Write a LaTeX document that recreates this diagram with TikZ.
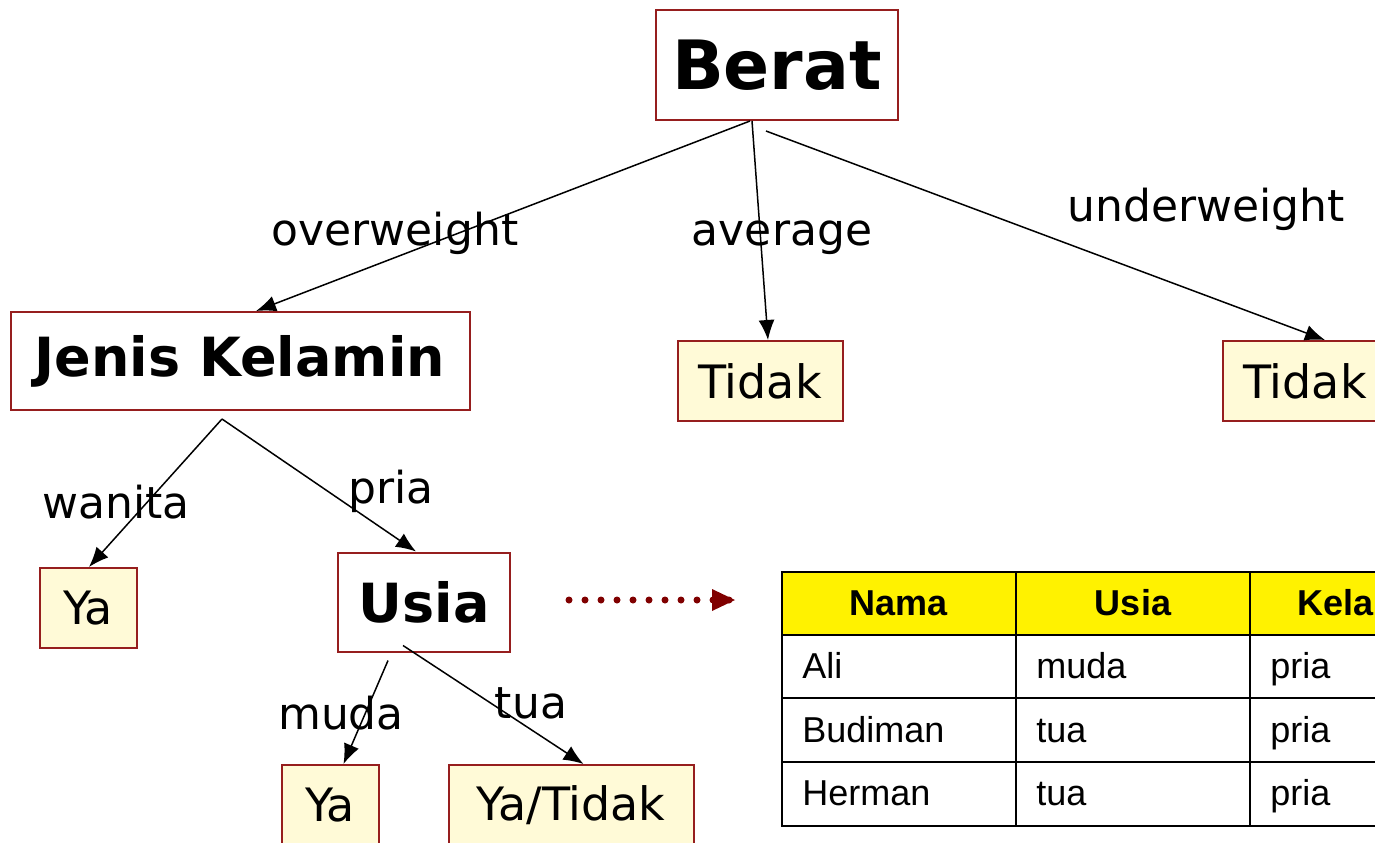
\documentclass[tikz,border=0pt]{standalone}
\usepackage{fontspec}
\setmainfont{DejaVu Sans}
\newfontfamily\tblfont{Liberation Sans}
\usetikzlibrary{arrows.meta}

\definecolor{boxred}{RGB}{150,30,30}
\definecolor{leafyellow}{RGB}{255,250,215}
\definecolor{dotred}{RGB}{128,0,0}

\begin{document}
\begin{tikzpicture}[x=0.5pt,y=-0.5pt]
\tikzstyle{every node}+=[inner sep=0pt]
\tikzstyle{attr}=[draw=boxred, line width=1pt, fill=white, font=\bfseries\fontsize{27}{30}\selectfont]
\tikzstyle{leaf}=[draw=boxred, line width=1pt, fill=leafyellow, minimum height=40pt, font=\fontsize{23}{26}\selectfont]
\tikzstyle{lbl}=[anchor=base, font=\fontsize{22}{26}\selectfont]
\tikzstyle{branch}=[line width=0.75pt, -{Latex[length=10pt,width=8pt]}]
\tikzstyle{tblline}=[line width=1pt]
\tikzstyle{cell}=[anchor=base west, font=\tblfont\fontsize{18}{21}\selectfont]
\tikzstyle{hcell}=[anchor=base, font=\tblfont\bfseries\fontsize{18}{21}\selectfont]
\useasboundingbox (0,0) rectangle (1375,842);
\clip (0,0) rectangle (1375,842);

% tree
\node[attr, minimum width=121pt, minimum height=55pt, font=\bfseries\fontsize{34}{38}\selectfont] (Berat) at (777,65) {Berat};
\node[attr, minimum width=229.5pt, minimum height=49pt] (JK) at (240,361) {Jenis Kelamin};
\node[leaf, minimum width=82.5pt] (TidakA) at (760,381) {Tidak};
\node[leaf, minimum width=82.5pt] (TidakU) at (1305,381) {Tidak};
\node[leaf, minimum width=48.5pt] (YaW) at (88,608) {Ya};
\node[attr, minimum width=86pt, minimum height=49.5pt] (Usia) at (424,602) {Usia};
\node[leaf, minimum width=48.5pt] (YaM) at (330,805) {Ya};
\node[leaf, minimum width=122.5pt] (YaT) at (571,805) {Ya/Tidak};

\draw[branch] ([xshift=-13.5pt]Berat.south) -- ([xshift=8pt]JK.north);
\draw[branch] ([xshift=-12.5pt]Berat.south) -- ([xshift=4pt]TidakA.north);
\draw[branch] ([xshift=-5.5pt,yshift=-5pt]Berat.south) -- ([xshift=10pt]TidakU.north);
\draw[branch] ([xshift=-9pt,yshift=-4pt]JK.south) -- ([xshift=0.5pt]YaW.north);
\draw[branch] ([xshift=-9pt,yshift=-4pt]JK.south) -- ([xshift=-4pt]Usia.north);
\draw[branch] ([xshift=-18pt,yshift=-4pt]Usia.south) -- ([xshift=6.75pt]YaM.north);
\draw[branch] ([xshift=-10.5pt,yshift=3.5pt]Usia.south) -- ([xshift=6.25pt]YaT.north);

\node[lbl] (lOver) at (395,245) {overweight};
\node[lbl] (lAvg) at (782,245) {average};
\node[lbl] (lUnder) at (1206,221) {underweight};
\node[lbl] (lWanita) at (116,518) {wanita};
\node[lbl] (lPria) at (391,503) {pria};
\node[lbl] (lMuda) at (341,729) {muda};
\node[lbl] (lTua) at (531,718) {tua};

% table
\draw[tblline, fill=yellow] (782,572) rectangle (1400,635);
\draw[tblline] (782,635) rectangle (1400,826);
\draw[tblline] (782,698) -- (1400,698);
\draw[tblline] (782,762) -- (1400,762);
\draw[tblline] (1016,572) -- (1016,826);
\draw[tblline] (1250,572) -- (1250,826);
\coordinate (tbl) at (782,600);

\node[hcell] (hNama) at (899,615) {Nama};
\node[hcell] (hUsia) at (1133,615) {Usia};
\node[hcell, anchor=base west] (hKel) at (1297,615) {Kela};
\node[cell] (n1) at (802,678) {Ali};
\node[cell] (u1) at (1036,678) {muda};
\node[cell] (k1) at (1270,678) {pria};
\node[cell] (n2) at (802,742) {Budiman};
\node[cell] (u2) at (1036,742) {tua};
\node[cell] (k2) at (1270,742) {pria};
\node[cell] (n3) at (802,805) {Herman};
\node[cell] (u3) at (1036,805) {tua};
\node[cell] (k3) at (1270,805) {pria};

\draw[dotred, line width=3.5pt, line cap=round, dash pattern=on 0pt off 8pt, shorten <=29pt, shorten >=23.5pt] ([yshift=1pt]Usia.east) -- (tbl);
\fill[dotred] (712,589) -- (735,600) -- (712,611) -- cycle;
\end{tikzpicture}
\end{document}
